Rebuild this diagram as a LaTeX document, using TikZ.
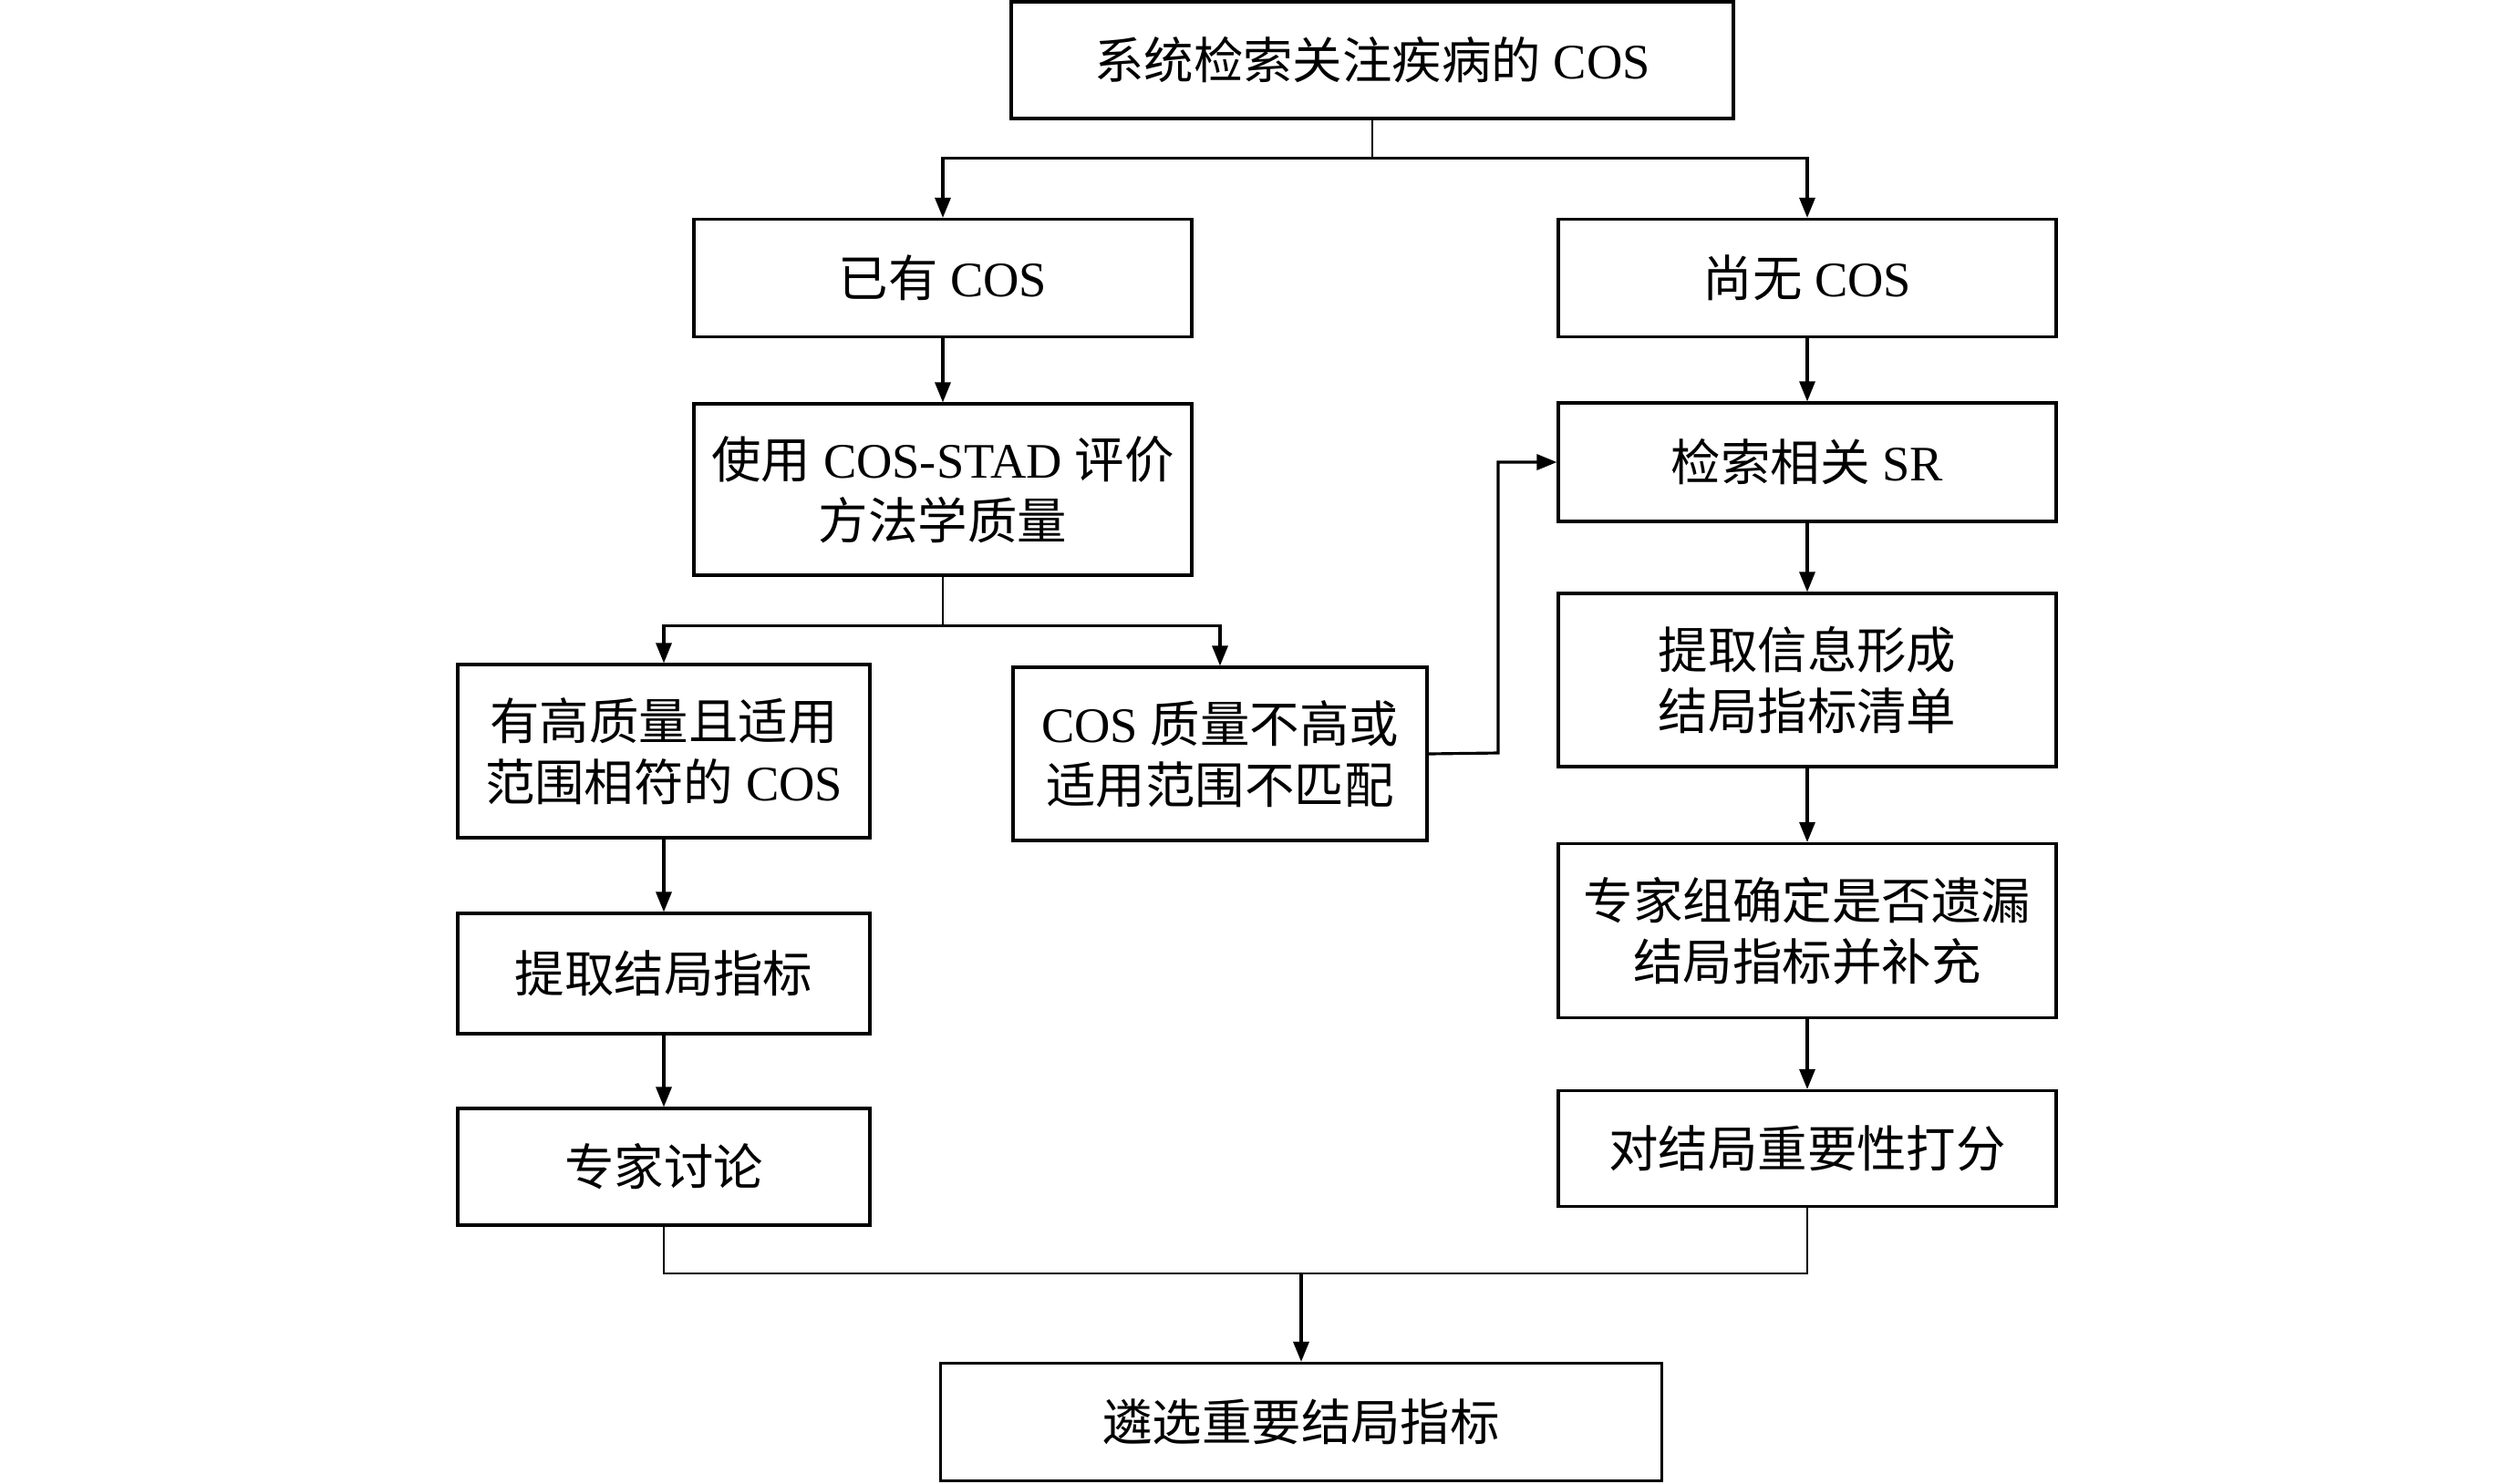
\documentclass[tikz,border=0pt]{standalone}
\usepackage{fontspec}
\setmainfont{Liberation Serif}
\newfontfamily\cjk{Noto Sans CJK SC}
\newcommand{\cn}[1]{{\cjk #1}}
\usepackage{tikz}
\usetikzlibrary{positioning,calc,arrows.meta}

\tikzset{
    box/.style={draw, line width=0.9pt, align=center, inner sep=0pt,
        font=\fontsize{15.5}{19}\selectfont},
    link/.style={line width=0.75pt},
    flow/.style={line width=0.9pt, -{Triangle[length=2.2mm, width=1.7mm]}}
}

\begin{document}
\begin{tikzpicture}[x=1cm, y=1cm]
    \useasboundingbox (0,0) rectangle (27.56,-16.27);

    % Search
    \node[box, minimum width=7.92cm, minimum height=1.28cm] (search) at (15.05,-0.66) {\cn{系统检索关注疾病的} COS};

    % Left branch: existing COS
    \node[box, minimum width=5.46cm, minimum height=1.29cm] (have) at (10.34,-3.05) {\cn{已有} COS};
    \node[box, minimum width=5.46cm, minimum height=1.88cm] (assess) at (10.34,-5.37) {\cn{使用} COS-STAD \cn{评价}\\\cn{方法学质量}};
    \node[box, minimum width=4.52cm, minimum height=1.90cm] (good) at (7.28,-8.24) {\cn{有高质量且适用}\\\cn{范围相符的} COS};
    \node[box, minimum width=4.54cm, minimum height=1.90cm] (poor) at (13.38,-8.27) {COS \cn{质量不高或}\\\cn{适用范围不匹配}};
    \node[box, minimum width=4.52cm, minimum height=1.32cm] (extract) at (7.28,-10.68) {\cn{提取结局指标}};
    \node[box, minimum width=4.52cm, minimum height=1.28cm] (discuss) at (7.28,-12.80) {\cn{专家讨论}};

    % Right branch: no COS
    \node[box, minimum width=5.46cm, minimum height=1.29cm] (none) at (19.82,-3.05) {\cn{尚无} COS};
    \node[box, minimum width=5.46cm, minimum height=1.30cm] (sr) at (19.82,-5.07) {\cn{检索相关} SR};
    \node[box, minimum width=5.46cm, minimum height=1.90cm] (list) at (19.82,-7.46) {\cn{提取信息形成}\\\cn{结局指标清单}};
    \node[box, minimum width=5.46cm, minimum height=1.91cm] (panel) at (19.82,-10.21) {\cn{专家组确定是否遗漏}\\\cn{结局指标并补充}};
    \node[box, minimum width=5.46cm, minimum height=1.27cm] (score) at (19.82,-12.60) {\cn{对结局重要性打分}};

    % Final
    \node[box, minimum width=7.91cm, minimum height=1.29cm] (select) at (14.27,-15.60) {\cn{遴选重要结局指标}};

    % Split after search
    \coordinate (split1) at ($(search.south)+(0,-0.42)$);
    \draw[link] (search.south) -- (split1);
    \draw[flow] (split1) -| (have.north);
    \draw[flow] (split1) -| (none.north);

    % Left chain
    \draw[flow] (have) -- (assess);
    \coordinate (split2) at ($(assess.south)+(0,-0.54)$);
    \draw[link] (assess.south) -- (split2);
    \draw[flow] (split2) -| (good.north);
    \draw[flow] (split2) -| (poor.north);
    \draw[flow] (good) -- (extract);
    \draw[flow] (extract) -- (discuss);

    % Feedback to SR search
    \coordinate (turn) at (16.43,-8.26);
    \draw[flow] (poor.east) -- (turn) |- (sr.west);

    % Right chain
    \draw[flow] (none) -- (sr);
    \draw[flow] (sr) -- (list);
    \draw[flow] (list) -- (panel);
    \draw[flow] (panel) -- (score);

    % Merge
    \coordinate (merge) at (14.27,-13.97);
    \draw[link] (discuss.south) |- (merge) -| (score.south);
    \draw[flow] (merge) -- (select);
\end{tikzpicture}
\end{document}
